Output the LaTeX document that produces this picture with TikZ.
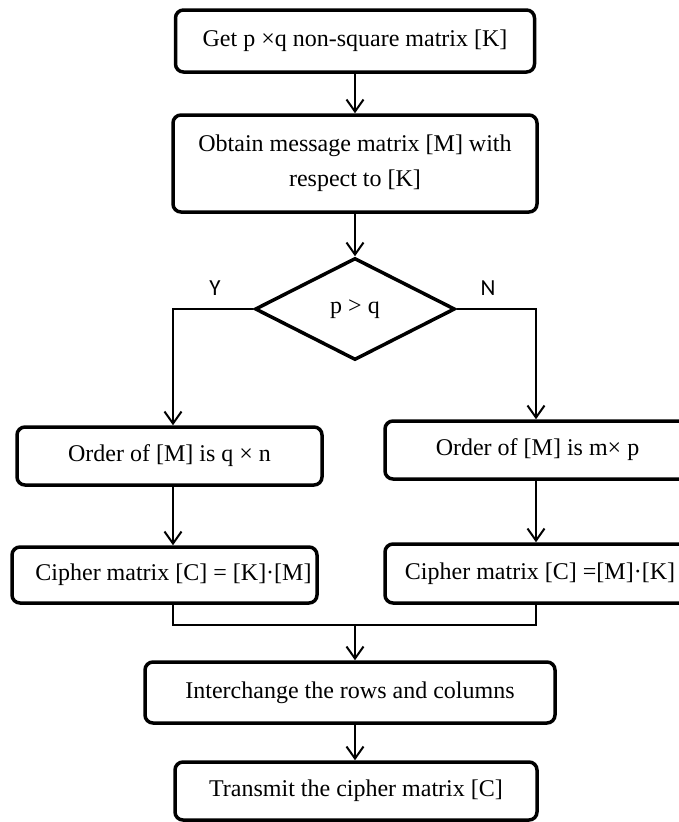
\documentclass[tikz,border=0pt]{standalone}
\usepackage{fontspec}
\setmainfont{Liberation Serif}
\newfontfamily\lblfont{Carlito}
\usetikzlibrary{arrows.meta,shapes.geometric,calc}
\begin{document}
\begin{tikzpicture}[x=1pt,y=-1pt,
  box/.style={draw,line width=3.5pt,rounded corners=8pt,inner sep=0pt,
    font=\fontsize{24}{35}\selectfont,align=center},
  arr/.style={line width=2pt,-{Straight Barb[length=12pt,width=17pt,line width=2pt]}},
  ln/.style={line width=2pt},
  yn/.style={font=\lblfont\fontsize{23}{27}\selectfont,inner sep=0pt},
]
\useasboundingbox (0,0) rectangle (679,822);
% nodes
\node[box,minimum width=359pt,minimum height=62pt] (b1) at (355,41) {Get p ×q non-square matrix [K]};
\node[box,minimum width=364pt,minimum height=97pt] (b2) at (355,163.5) {Obtain message matrix [M] with\\respect to [K]};
\node[diamond,draw,line width=3.5pt,aspect=2,minimum width=200pt,minimum height=102pt,inner sep=0pt,
  font=\fontsize{24}{28}\selectfont] (d) at (355,309) {p > q};
\node[box,minimum width=305pt,minimum height=58pt] (ol) at (169.5,456) {Order of [M] is q × n};
\node[box,minimum width=305pt,minimum height=56pt] (cl) at (164.5,575) {\hspace*{18pt}Cipher matrix [C] = [K]·[M]};
\node[box,minimum width=305pt,minimum height=58pt] (or) at (537.5,450) {Order of [M] is m× p};
\node[box,minimum width=305pt,minimum height=59pt] (cr) at (537.5,573.5) {\hspace*{5pt}Cipher matrix [C] =[M]·[K]};
\node[box,minimum width=410pt,minimum height=61pt] (ic) at (350,692.5) {Interchange the rows and columns};
\node[box,minimum width=362pt,minimum height=58pt] (tr) at (356,791) {Transmit the cipher matrix [C]};
\node[yn] (ly) at (215,288) {Y};
\node[yn] (ln) at (488,288) {N};
% helper coordinates
\coordinate (xl) at (173,0);
\coordinate (xr) at (536,0);
\coordinate (jl) at (173,625);
\coordinate (jr) at (536,625);
\coordinate (jm) at (355,625);
% connectors
\draw[arr] (b1.south -| d.north) -- (b2.north -| d.north);
\draw[arr] (b2.south -| d.north) -- (d.north);
\draw[arr] (d.west) -| (ol.north -| xl);
\draw[arr] (d.east) -| (or.north -| xr);
\draw[arr] (ol.south -| xl) -- (cl.north -| xl);
\draw[arr] (or.south -| xr) -- (cr.north -| xr);
\draw[ln] (cl.south -| jl) -- (jl) -- (jr) -- (cr.south -| jr);
\draw[arr] (jm) -- (ic.north -| jm);
\draw[arr] (ic.south -| jm) -- (tr.north -| jm);
\end{tikzpicture}
\end{document}
